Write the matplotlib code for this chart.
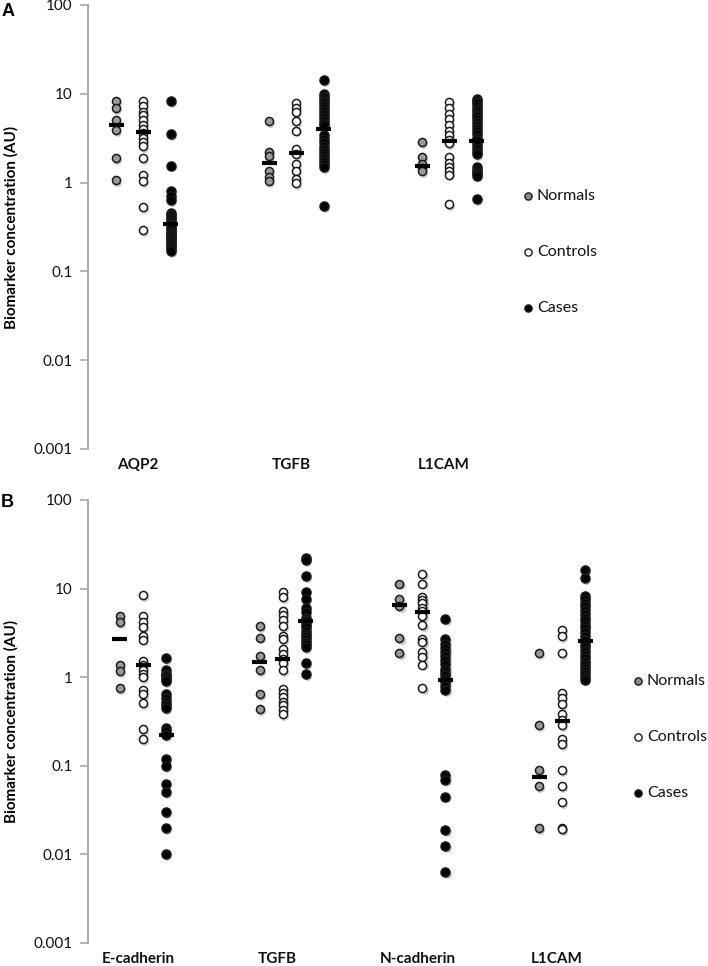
import numpy as np
import matplotlib
matplotlib.use("Agg")
import matplotlib.pyplot as plt
import matplotlib.transforms as mtransforms
from matplotlib.ticker import NullLocator

# ---------------- data ----------------
A_categories = ["AQP2", "TGFB", "L1CAM"]
A_normals = [
    [8.2, 6.9, 5.1, 3.9, 1.9, 1.07],
    [4.9, 2.2, 2.0, 1.35, 1.15, 1.05],
    [2.85, 1.95, 1.6, 1.45, 1.35],
]
A_controls = [
    [8.2, 7.2, 6.2, 5.7, 5.1, 4.5, 4.0, 3.6, 3.2, 2.85, 2.55, 1.9, 1.23, 1.05, 0.53, 0.29],
    [7.8, 6.9, 6.2, 4.9, 3.85, 2.4, 2.1, 1.62, 1.34, 1.1, 0.98],
    [8.0, 7.0, 6.0, 5.2, 4.4, 3.85, 3.4, 3.0, 2.77, 1.96, 1.65, 1.49, 1.36, 1.23, 0.575],
]
A_cases = [
    [8.3, 3.5, 1.55, 0.8, 0.71, 0.64, 0.46, 0.43, 0.41, 0.39, 0.37, 0.35, 0.34, 0.33,
     0.31, 0.30, 0.28, 0.27, 0.26, 0.25, 0.24, 0.23, 0.22, 0.21, 0.20, 0.19, 0.18, 0.17],
    [14.4, 9.9, 9.2, 8.6, 8.0, 7.4, 6.9, 6.4, 5.9, 5.5, 5.1, 4.7, 4.4, 3.4, 3.1, 2.85,
     2.6, 2.4, 2.2, 2.05, 1.9, 1.75, 1.62, 1.5, 0.54],
    [8.8, 8.3, 7.8, 7.3, 6.8, 6.4, 6.0, 5.6, 5.2, 4.8, 4.4, 4.1, 3.8, 3.5, 3.2, 3.0, 2.8,
     2.6, 2.4, 2.2, 2.1, 1.5, 1.4, 1.3, 1.25, 1.2, 0.65],
]
A_normals_median = [4.4, 1.67, 1.55]
A_controls_median = [3.7, 2.16, 2.97]
A_cases_median = [0.34, 4.0, 2.97]

B_categories = ["E-cadherin", "TGFB", "N-cadherin", "L1CAM"]
B_normals = [
    [4.9, 4.2, 1.37, 1.18, 0.75],
    [3.8, 2.8, 1.75, 1.21, 0.65, 0.44],
    [11.4, 7.6, 6.4, 2.74, 1.86],
    [1.86, 0.29, 0.089, 0.059, 0.0198],
]
B_controls = [
    [8.4, 4.9, 4.2, 3.7, 2.9, 2.66, 1.53, 1.39, 1.22, 1.08, 1.0, 0.71, 0.64, 0.51, 0.26, 0.2],
    [9.25, 8.1, 5.6, 5.06, 4.4, 3.8, 2.94, 2.7, 2.08, 1.83, 1.6, 1.44, 1.21, 0.74, 0.66,
     0.6, 0.53, 0.48, 0.43, 0.38],
    [14.7, 11.4, 8.1, 7.4, 6.8, 6.1, 5.6, 4.9, 3.9, 2.7, 2.47, 1.94, 1.71, 1.39, 0.76],
    [3.4, 2.9, 1.86, 0.66, 0.58, 0.5, 0.38, 0.33, 0.29, 0.2, 0.175, 0.089, 0.059, 0.039,
     0.0198, 0.0195],
]
B_cases = [
    [1.65, 1.2, 1.1, 1.05, 1.0, 0.95, 0.9, 0.64, 0.58, 0.52, 0.48, 0.45, 0.27, 0.25, 0.22,
     0.12, 0.1, 0.063, 0.05, 0.03, 0.02, 0.01],
    [21.9, 20.8, 13.8, 9.25, 7.6, 6.1, 5.4, 4.7, 4.4, 4.15, 3.9, 3.65, 3.3, 3.07, 2.9, 2.7,
     2.5, 2.37, 2.2, 1.44, 1.09],
    [4.5, 2.7, 2.4, 2.15, 1.95, 1.75, 1.55, 1.4, 1.25, 1.15, 1.05, 0.95, 0.88, 0.8, 0.72,
     0.079, 0.07, 0.045, 0.019, 0.0125, 0.0063],
    [16.1, 13.1, 8.3, 7.6, 6.9, 6.3, 5.7, 5.2, 4.7, 4.3, 3.9, 3.55, 3.2, 2.9, 2.6, 2.4, 2.2,
     2.0, 1.8, 1.65, 1.5, 1.38, 1.27, 1.17, 1.08, 1.0, 0.94],
]
B_normals_median = [2.7, 1.47, 6.5, 0.075]
B_controls_median = [1.37, 1.6, 5.4, 0.32]
B_cases_median = [0.22, 4.3, 0.94, 2.54]

group_names = ["Normals", "Controls", "Cases"]
y_ticks = [0.001, 0.01, 0.1, 1, 10, 100]
y_tick_labels = ["0.001", "0.01", "0.1", "1", "10", "100"]
y_label = "Biomarker concentration (AU)"

# ---------------- style ----------------
plt.rcParams['font.family'] = ['Lato', 'DejaVu Sans']
W, H = 708, 966
fig = plt.figure(figsize=(W / 100, H / 100), dpi=100)

fills = ["#9a9a9a", "#ffffff", "#000000"]
edge = "#1a1a1a"
axis_grey = "#a8a8a8"


def px_rect(left, top, right, bottom):
    return [left / W, 1 - bottom / H, (right - left) / W, (bottom - top) / H]


def draw_panel(rect, cats, groups, medians, x_first, x_step, offs, legend_xy, letter, letter_xy):
    ax = fig.add_axes(rect)
    left_px = rect[0] * W
    width_px = rect[2] * W
    x0 = -(x_first - left_px) / x_step
    ax.set_xlim(x0, x0 + width_px / x_step)
    ax.set_yscale("log")
    ax.set_ylim(0.001, 100)
    ax.set_yticks(y_ticks)
    ax.set_yticklabels(y_tick_labels)
    ax.yaxis.set_minor_locator(NullLocator())
    ax.set_xticks([])
    for s in ["top", "right", "bottom"]:
        ax.spines[s].set_visible(False)
    ax.spines["left"].set_color(axis_grey)
    ax.spines["left"].set_linewidth(1.4)
    ax.tick_params(axis="y", length=6, width=1.2, color=axis_grey, pad=5,
                   labelsize=11, labelcolor="#111111")
    ax.set_ylabel(y_label, fontsize=11, fontweight="bold")
    ax.yaxis.set_label_coords(-(left_px - 19) / width_px, 0.5)

    shadow = mtransforms.offset_copy(ax.transData, fig=fig, x=1.2, y=-1.8, units="dots")
    for g, (vals_list, med_list) in enumerate(zip(groups, medians)):
        for i, vals in enumerate(vals_list):
            x = np.full(len(vals), i + offs[g])
            ax.scatter(x, vals, s=40, color="#000000", alpha=0.22, linewidths=0,
                       transform=shadow, zorder=2, clip_on=False)
            ax.scatter(x, vals, s=34 if g < 2 else 42, facecolor=fills[g],
                       edgecolor=edge, linewidths=1.1, zorder=3, clip_on=False)
            hw = 7.5 / x_step
            ax.hlines(med_list[i], i + offs[g] - hw, i + offs[g] + hw, color="#000000",
                      linewidth=3.0, zorder=4)
    lab_tr = mtransforms.offset_copy(ax.get_xaxis_transform(), fig=fig, x=-5, y=-9, units="dots")
    for i, c in enumerate(cats):
        ax.text(i, 0, c, transform=lab_tr, ha="center", va="top", fontsize=11,
                fontweight="bold", color="#111111")
    # legend
    lx, ly = legend_xy
    for g, name in enumerate(group_names):
        yy = ly + g * 56
        fig.lines.append(plt.Line2D([lx / W], [1 - yy / H], marker="o", markersize=5.2,
                                    markerfacecolor=fills[g] if g != 0 else "#8a8a8a",
                                    markeredgecolor=edge, markeredgewidth=1.0,
                                    linestyle="none", transform=fig.transFigure))
        fig.text((lx + 9) / W, 1 - yy / H, name, fontsize=11.5, va="center", ha="left",
                 color="#111111")
    fig.text(letter_xy[0] / W, 1 - letter_xy[1] / H, letter, fontsize=13, fontweight="bold",
             family="Liberation Sans", va="center", ha="left")
    return ax


draw_panel(px_rect(88, 5, 705, 449), A_categories,
           [A_normals, A_controls, A_cases],
           [A_normals_median, A_controls_median, A_cases_median],
           x_first=143, x_step=153, offs=[-0.175, 0.0, 0.18],
           legend_xy=(528, 196), letter="A", letter_xy=(2, 12))

draw_panel(px_rect(88, 500, 705, 943), B_categories,
           [B_normals, B_controls, B_cases],
           [B_normals_median, B_controls_median, B_cases_median],
           x_first=143, x_step=139.7, offs=[-0.165, 0.0, 0.165],
           legend_xy=(638, 681), letter="B", letter_xy=(1, 503))

fig.savefig("out.png", dpi=100)
